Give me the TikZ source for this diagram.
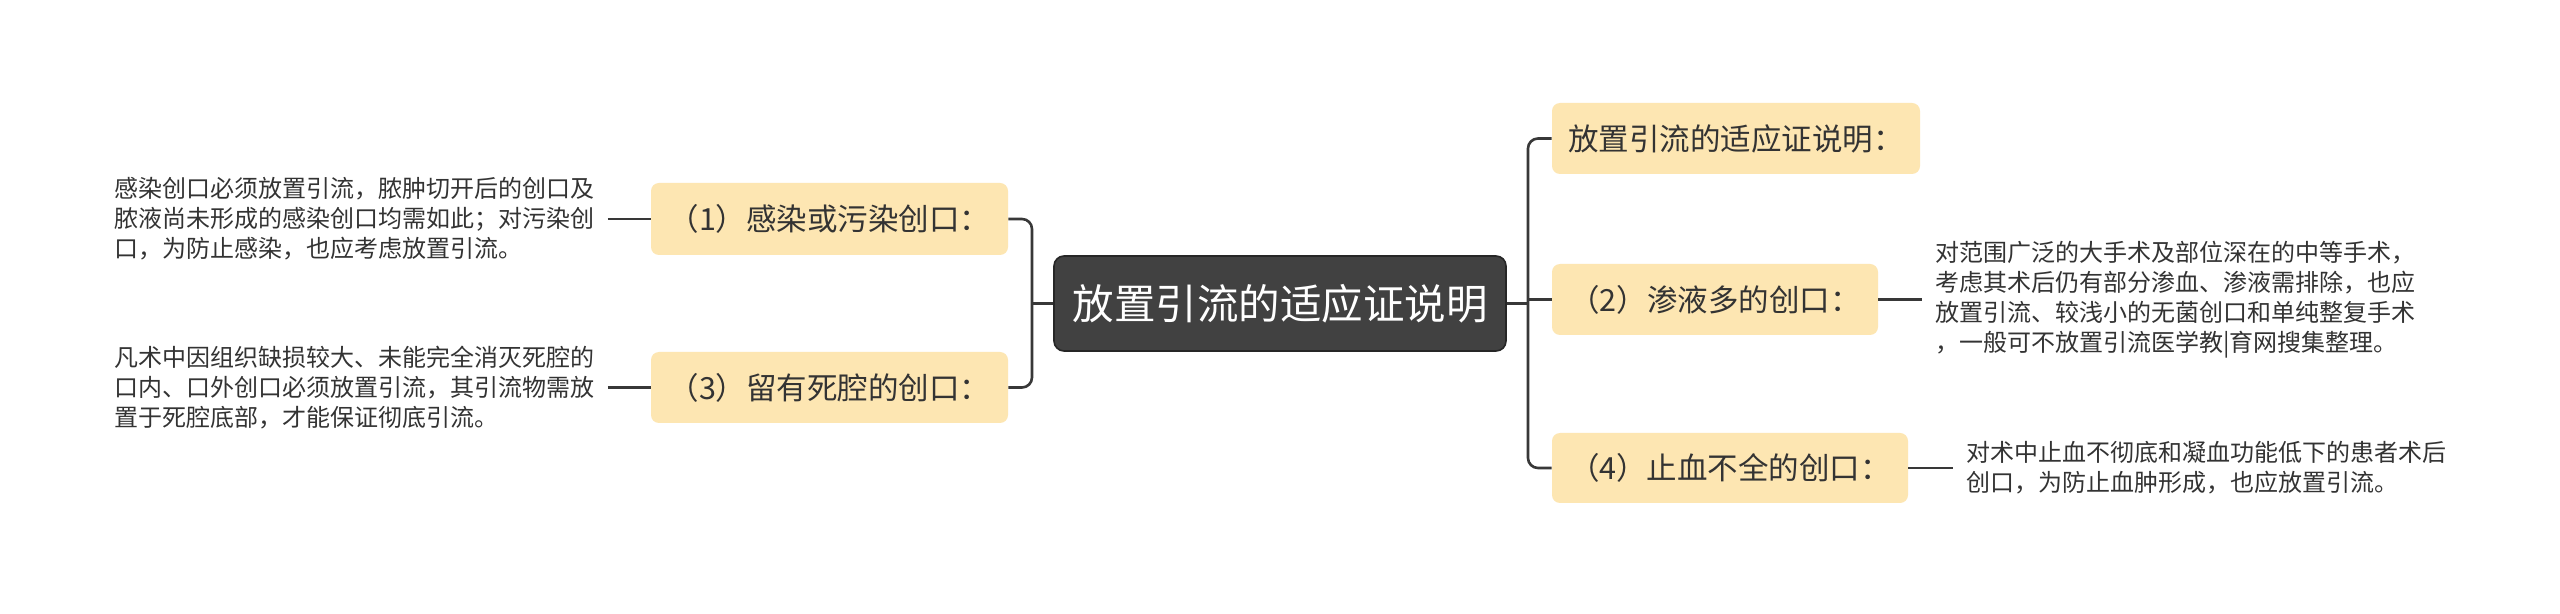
\documentclass[tikz,border=0pt]{standalone}
\usepackage{fontspec}
\newfontfamily\cjk{Noto Sans CJK SC}
\definecolor{boxyellow}{HTML}{FDE6B2}
\definecolor{centergray}{HTML}{414141}
\definecolor{linegray}{HTML}{383838}
\definecolor{txtgray}{HTML}{333333}
\begin{document}
\begin{tikzpicture}[x=0.5pt,y=-0.5pt,
  topic/.style={fill=boxyellow, rounded corners=4pt, inner sep=0pt, font=\cjk\fontsize{15.25}{18}\selectfont, text=txtgray},
  centre/.style={fill=centergray, draw=black!85, line width=0.8pt, rounded corners=5pt, minimum width=226pt, minimum height=47.5pt, inner sep=0pt, font=\cjk\fontsize{20.75}{24}\selectfont, text=white},
  leaf/.style={inner xsep=6.5pt, inner ysep=2pt, align=left, font=\cjk\fontsize{12}{15}\selectfont, text=txtgray, anchor=west},
  conn/.style={draw=linegray, line width=1.3pt, rounded corners=5pt}]
\useasboundingbox[fill=white] (0,0) rectangle (2560,614);

\node[centre] (c) at (1280,303.5) {放置引流的适应证说明};

\node[topic, minimum width=184pt, minimum height=35.5pt] (r0) at (1736,138.5) {放置引流的适应证说明：};
\node[topic, minimum width=163pt, minimum height=35.5pt] (r2) at (1715,299.5) {（2）渗液多的创口：};
\node[topic, minimum width=178pt, minimum height=35pt] (r4) at (1730,468) {（4）止血不全的创口：};
\node[topic, minimum width=178.5pt, minimum height=36pt] (l1) at (829.5,219) {（1）感染或污染创口：};
\node[topic, minimum width=178.5pt, minimum height=35.5pt] (l3) at (829.5,387.5) {（3）留有死腔的创口：};

\node[leaf] (t1) at (101,219) {感染创口必须放置引流，脓肿切开后的创口及\\脓液尚未形成的感染创口均需如此；对污染创\\口，为防止感染，也应考虑放置引流。};
\node[leaf] (t3) at (101,387.5) {凡术中因组织缺损较大、未能完全消灭死腔的\\口内、口外创口必须放置引流，其引流物需放\\置于死腔底部，才能保证彻底引流。};
\node[leaf] (t2) at (1922,299.5) {对范围广泛的大手术及部位深在的中等手术，\\考虑其术后仍有部分渗血、渗液需排除，也应\\放置引流、较浅小的无菌创口和单纯整复手术\\，一般可不放置引流医学教|育网搜集整理。};
\node[leaf] (t4) at (1953,468) {对术中止血不彻底和凝血功能低下的患者术后\\创口，为防止血肿形成，也应放置引流。};

\coordinate (jl) at (1032,0);
\coordinate (jr) at (1528,0);

\draw[conn] (l1.east) -- (l1.east -| jl) -- (l3.east -| jl) -- (l3.east);
\draw[conn] (c.west) -- (c.west -| jl);
\draw[conn] (r0.west) -- (r0.west -| jr) -- (r4.west -| jr) -- (r4.west);
\draw[conn] (c.east) -- (c.east -| jr);
\draw[conn] (r2.west -| jr) -- (r2.west);

\draw[conn] (t1.east) -- (l1.west);
\draw[conn] (t3.east) -- (l3.west);
\draw[conn] (r2.east) -- (t2.west);
\draw[conn] (r4.east) -- (t4.west);
\end{tikzpicture}
\end{document}
